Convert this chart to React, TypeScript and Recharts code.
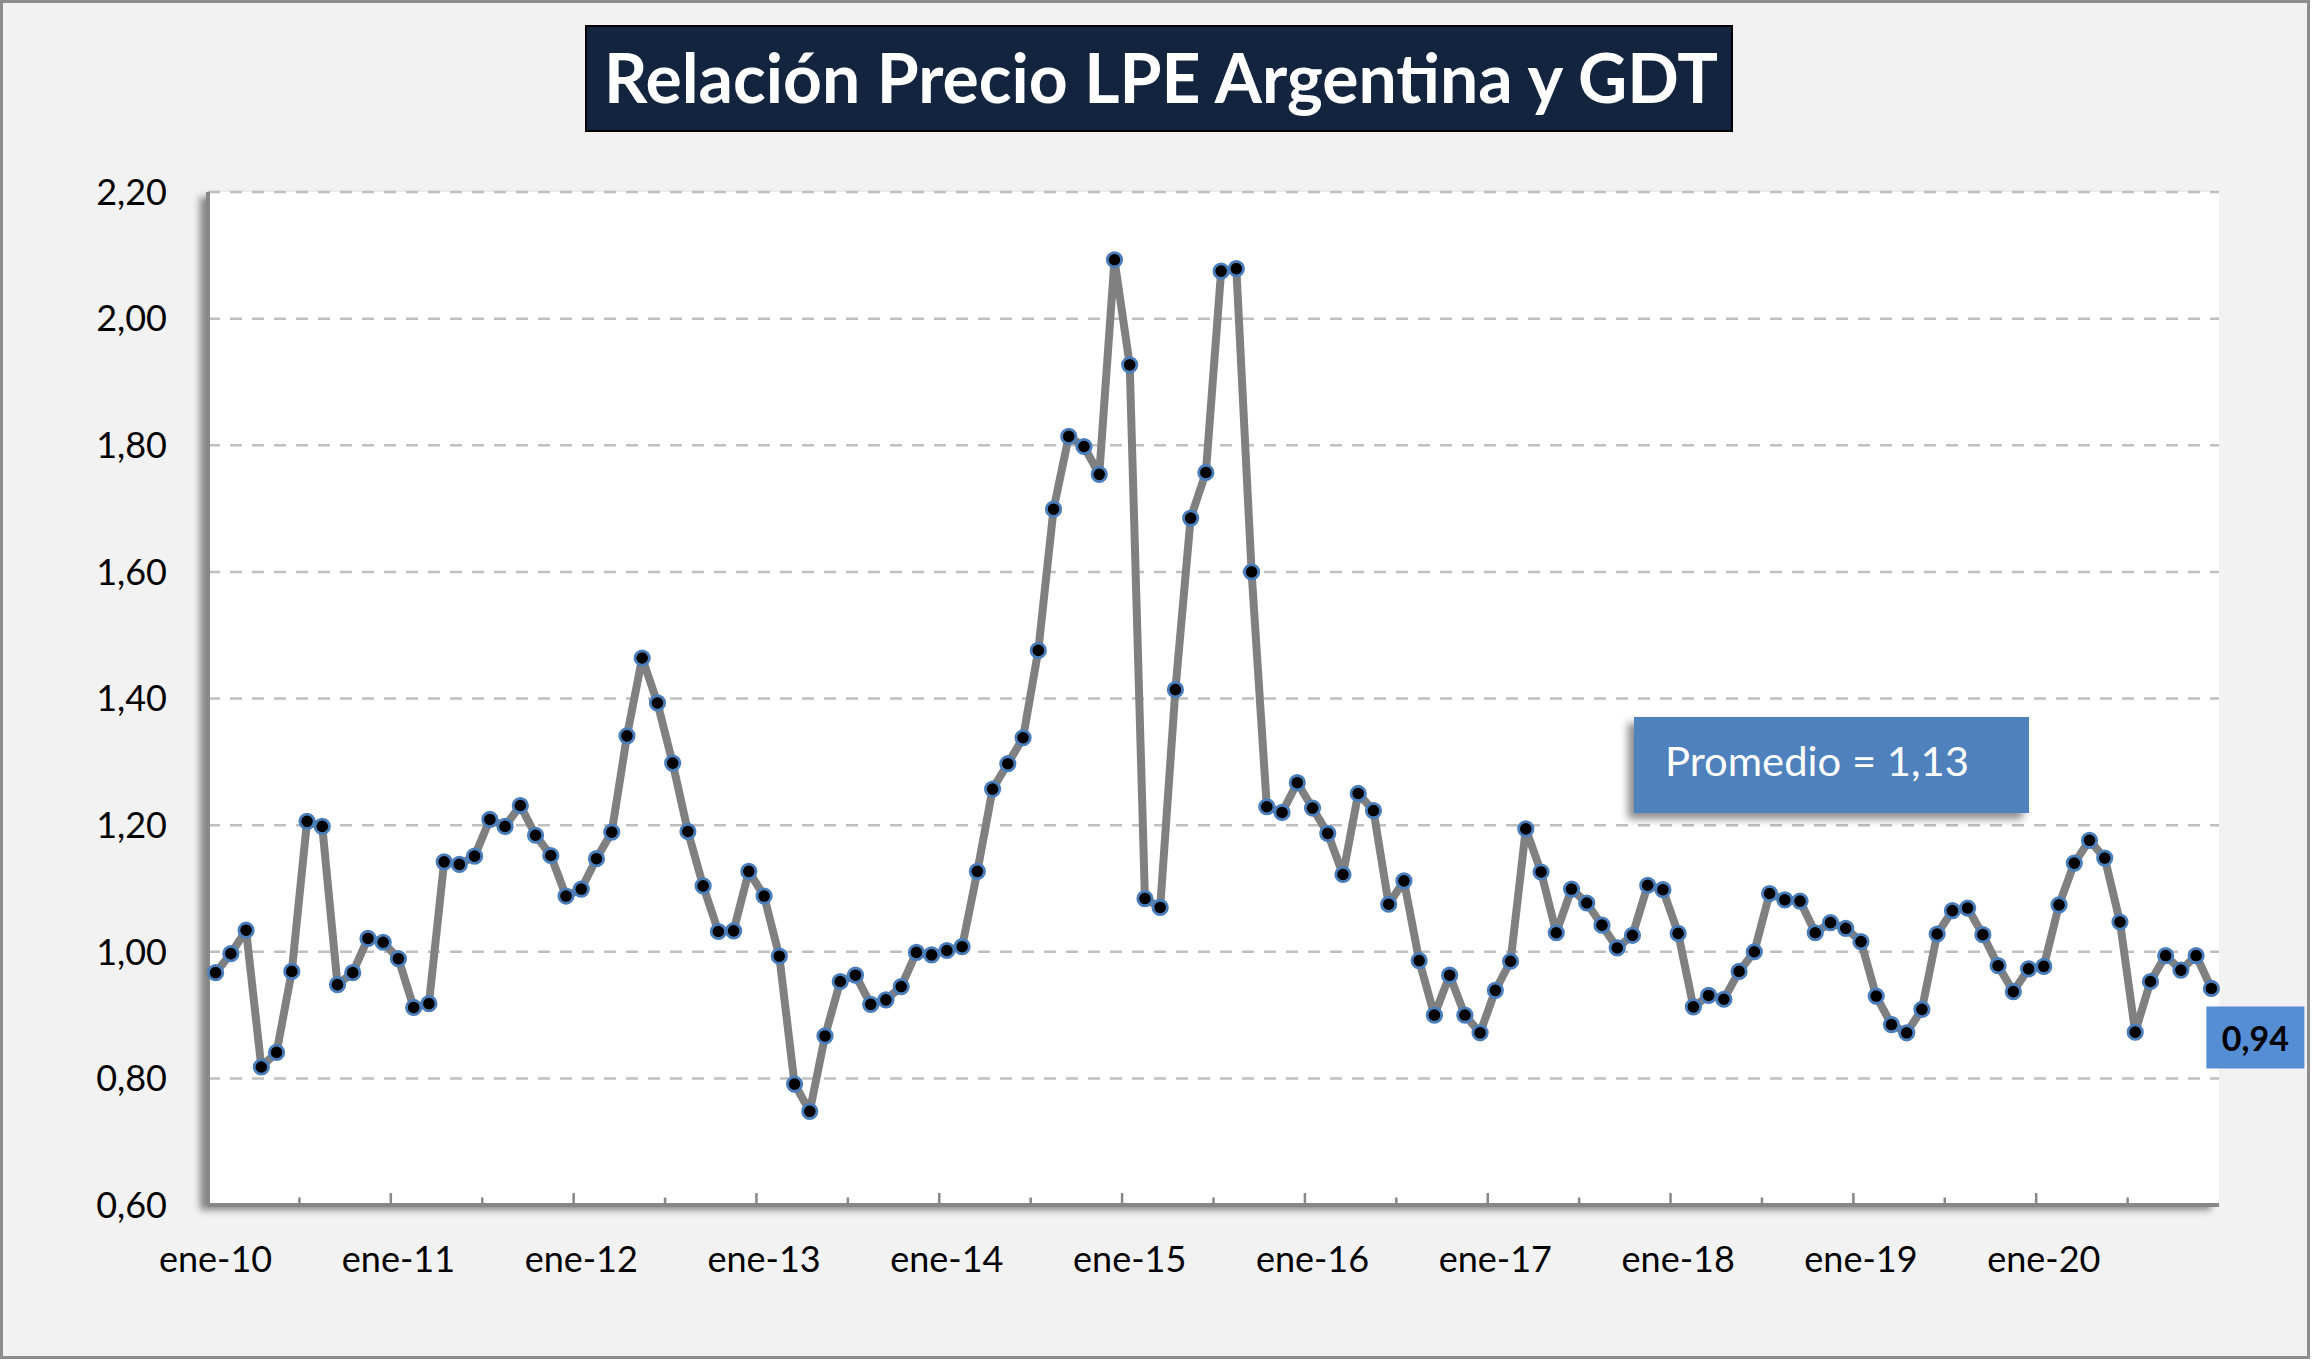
import { LineChart, Line, XAxis, YAxis, CartesianGrid, LabelList } from "recharts";

// relación precio LPE / GDT, mensual
const months = ["ene", "feb", "mar", "abr", "may", "jun", "jul", "ago", "sep", "oct", "nov", "dic"];
const years = ["10", "11", "12", "13", "14", "15", "16", "17", "18", "19", "20"];

const y2010 = [0.967, 0.997, 1.034, 0.818, 0.841, 0.969, 1.206, 1.198, 0.948, 0.967, 1.021, 1.015];
const y2011 = [0.989, 0.912, 0.918, 1.142, 1.138, 1.151, 1.209, 1.198, 1.231, 1.184, 1.152, 1.088];
const y2012 = [1.099, 1.147, 1.189, 1.341, 1.464, 1.393, 1.298, 1.19, 1.104, 1.032, 1.033, 1.127];
const y2013 = [1.088, 0.993, 0.791, 0.748, 0.867, 0.953, 0.963, 0.917, 0.924, 0.945, 0.999, 0.995];
const y2014 = [1.002, 1.008, 1.127, 1.257, 1.297, 1.338, 1.476, 1.699, 1.814, 1.798, 1.754, 2.093];
const y2015 = [1.927, 1.084, 1.07, 1.414, 1.685, 1.757, 2.075, 2.079, 1.6, 1.229, 1.22, 1.267];
const y2016 = [1.227, 1.187, 1.122, 1.25, 1.223, 1.075, 1.112, 0.986, 0.9, 0.963, 0.9, 0.872];
const y2017 = [0.939, 0.985, 1.194, 1.126, 1.03, 1.099, 1.077, 1.042, 1.006, 1.026, 1.105, 1.098];
const y2018 = [1.029, 0.913, 0.931, 0.925, 0.969, 1.0, 1.092, 1.082, 1.08, 1.03, 1.046, 1.037];
const y2019 = [1.016, 0.93, 0.885, 0.872, 0.909, 1.028, 1.065, 1.069, 1.027, 0.978, 0.937, 0.973];
const y2020 = [0.977, 1.074, 1.14, 1.176, 1.148, 1.047, 0.873, 0.953, 0.994, 0.971, 0.994, 0.942];

const yTicks = [0.6, 0.8, 1.0, 1.2, 1.4, 1.6, 1.8, 2.0, 2.2];
const title = "Relación Precio LPE Argentina y GDT";
const promedioText = "Promedio = 1,13";

const byYear = [y2010, y2011, y2012, y2013, y2014, y2015, y2016, y2017, y2018, y2019, y2020];
const data = years.flatMap((yr, i) =>
  months.map((m, j) => ({ label: `${m}-${yr}`, v: byYear[i][j] }))
);
const tickCats = data.filter((_, i) => i % 6 === 0).map((d) => d.label);

const W = 2312;
const H = 1361;
const PLOT_LEFT = 208;
const PLOT_TOP = 192;
const PLOT_RIGHT = 2219;
const PLOT_BOTTOM = 1205;
const PLOT_W = PLOT_RIGHT - PLOT_LEFT;
const BW = PLOT_W / data.length;
const FONT = "Lato, 'Open Sans', sans-serif";
const AXIS_GRAY = "#878787";

const fmt = (v: number) => v.toFixed(2).replace(".", ",");

const XTick = (p: any) => {
  const lbl = String(p.payload?.value ?? "");
  const major = lbl.startsWith("ene");
  const tx = p.x - BW / 2;
  return (
    <g>
      <line
        x1={tx}
        x2={tx}
        y1={PLOT_BOTTOM}
        y2={PLOT_BOTTOM - (major ? 12 : 7.5)}
        stroke={AXIS_GRAY}
        strokeWidth={2.5}
      />
      {major && (
        <text x={p.x} y={PLOT_BOTTOM + 67} textAnchor="middle" fontFamily={FONT} fontSize={36} fill="#000">
          {lbl}
        </text>
      )}
    </g>
  );
};

const renderDot = (p: any) => (
  <circle key={`dot-${p.index}`} cx={p.cx} cy={p.cy} r={7.2} fill="#000" stroke="#4a7ebb" strokeWidth={2.8} />
);

const LastLabel = (p: any) => {
  if (p.index !== data.length - 1) return null;
  const x = Number(p.x);
  const y = Number(p.y);
  return (
    <g>
      <rect x={x - 5} y={y + 18} width={98} height={62} fill="#558ed5" />
      <text x={x + 44} y={y + 63} textAnchor="middle" fontFamily={FONT} fontWeight={700} fontSize={34} fill="#000">
        {fmt(Number(p.value))}
      </text>
    </g>
  );
};

export default function App() {
  return (
    <div style={{ position: "absolute", left: 0, top: 0, width: W, height: H, background: "#fff" }}>
      <div
        style={{
          position: "absolute",
          left: 0,
          top: 0,
          width: W - 2,
          height: H - 2,
          boxSizing: "border-box",
          border: "3px solid #8d8d8d",
          background: "#f2f2f2",
        }}
      />
      {/* fondo blanco del área de trazado con sombra */}
      <div
        style={{
          position: "absolute",
          left: PLOT_LEFT,
          top: PLOT_TOP,
          width: PLOT_W,
          height: PLOT_BOTTOM - PLOT_TOP,
          background: "#fff",
          boxShadow: "-8px 5px 7px rgba(0,0,0,0.45)",
        }}
      />
      <div
        style={{
          position: "absolute",
          left: 585,
          top: 25,
          width: 1148,
          height: 107,
          boxSizing: "border-box",
          background: "#13243f",
          border: "2px solid #000",
        }}
      >
        <svg width={1144} height={103} style={{ display: "block" }}>
          <text
            x={17}
            y={76}
            textLength={1114}
            lengthAdjust="spacingAndGlyphs"
            fontFamily={FONT}
            fontWeight={700}
            fontSize={68}
            fill="#fff"
          >
            {title}
          </text>
        </svg>
      </div>
      <div style={{ position: "absolute", left: 0, top: 0 }}>
        <LineChart width={W} height={H} data={data} margin={{ top: PLOT_TOP, right: W - PLOT_RIGHT, left: 0, bottom: 0 }}>
          <CartesianGrid vertical={false} stroke="#bfbfbf" strokeDasharray="12 10" strokeWidth={2.5} />
          <XAxis
            dataKey="label"
            ticks={tickCats}
            interval={0}
            tickLine={false}
            tickSize={0}
            tickMargin={0}
            axisLine={{ stroke: AXIS_GRAY, strokeWidth: 4 }}
            tick={(p: any) => <XTick {...p} />}
            height={H - PLOT_BOTTOM}
            padding={{ left: BW / 2, right: BW / 2 }}
          />
          <XAxis
            xAxisId="top"
            orientation="top"
            dataKey="label"
            tick={false}
            tickLine={false}
            axisLine={{ stroke: "#000", strokeWidth: 2.5 }}
            height={0}
            padding={{ left: BW / 2, right: BW / 2 }}
          />
          <YAxis
            domain={[0.6, 2.2]}
            ticks={yTicks}
            tickFormatter={fmt}
            tickLine={false}
            tickSize={0}
            tickMargin={41}
            axisLine={{ stroke: AXIS_GRAY, strokeWidth: 4 }}
            tick={{ fontSize: 36, fontFamily: FONT, fill: "#000" }}
            width={PLOT_LEFT}
          />
          <YAxis
            yAxisId="right"
            orientation="right"
            domain={[0.6, 2.2]}
            ticks={yTicks}
            tick={false}
            tickLine={false}
            axisLine={{ stroke: "#000", strokeWidth: 2.5 }}
            width={0}
          />
          <Line
            dataKey="v"
            stroke="#808080"
            strokeWidth={8}
            strokeLinejoin="round"
            dot={renderDot}
            activeDot={false}
            isAnimationActive={false}
          >
            <LabelList dataKey="v" content={LastLabel} />
          </Line>
        </LineChart>
      </div>
      <div
        style={{
          position: "absolute",
          left: 1634,
          top: 717,
          width: 395,
          height: 96,
          background: "#4f81bd",
          boxShadow: "-6px 6px 8px rgba(0,0,0,0.45)",
        }}
      >
        <svg width={395} height={96} style={{ display: "block" }}>
          <text x={31} y={59} textLength={304} lengthAdjust="spacingAndGlyphs" fontFamily={FONT} fontSize={40} fill="#fff">
            {promedioText}
          </text>
        </svg>
      </div>
    </div>
  );
}
